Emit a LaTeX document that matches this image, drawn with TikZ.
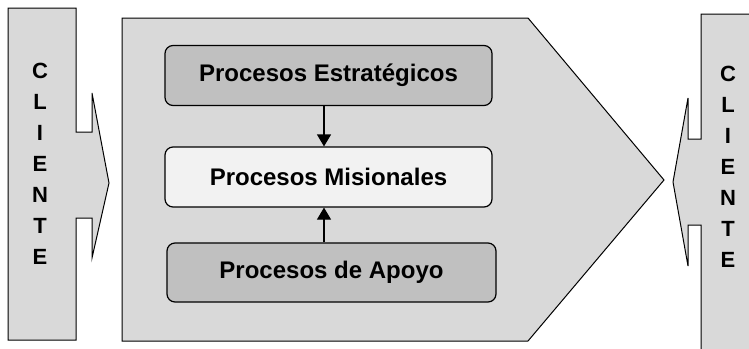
\documentclass[tikz,border=0pt]{standalone}
\usepackage{fontspec}
\setmainfont{Liberation Sans}
\usetikzlibrary{arrows.meta}
\definecolor{fondo}{HTML}{D9D9D9}
\definecolor{oscuro}{HTML}{C0C0C0}
\definecolor{claro}{HTML}{F2F2F2}
\begin{document}
\begin{tikzpicture}[x=1pt,y=-1pt,
  proceso/.style={draw,line width=1.2pt,rounded corners=8pt,
    minimum width=327pt,minimum height=60pt,
    font=\fontsize{24}{28}\selectfont\bfseries},
  flecha/.style={line width=1.2pt,-{Triangle[length=12pt,width=14pt]}},
  cliente/.style={align=center,font=\bfseries\fontsize{22}{31}\selectfont}]
\useasboundingbox (0,0) rectangle (749,348);
\clip (0,0) rectangle (749,348);
%
\draw[fill=fondo,line width=1pt] (8,8) -- (76,8) -- (76,132) -- (92,132) -- (92,93)
  -- (109,183) -- (92,258) -- (92,218) -- (76,218) -- (76,340) -- (8,340) -- cycle;
\node[cliente] (cliIzq) at (40,164) {C\\L\\I\\E\\N\\T\\E};
%
\draw[fill=fondo,line width=1pt] (122,18) -- (528,18) -- (664,180) -- (528,341)
  -- (122,341) -- cycle;
%
\draw[fill=fondo,line width=1pt] (701,14) -- (760,14) -- (760,360) -- (701,360)
  -- (701,225) -- (688,225) -- (688,266) -- (673,182) -- (688,98) -- (688,139)
  -- (701,139) -- cycle;
\node[cliente] (cliDer) at (728,167) {C\\L\\I\\E\\N\\T\\E};
%
\node[proceso,fill=oscuro] (estr) at (328.5,75.5) {Procesos Estratégicos};
\node[proceso,fill=claro] (mis) at (328.5,177) {Procesos Misionales};
\node[proceso,fill=oscuro,minimum width=329pt,minimum height=59pt] (apoyo) at (331.5,272.5) {Procesos de Apoyo};
%
\draw[flecha] ([xshift=-4.5pt]estr.south) -- ([xshift=-4.5pt]mis.north);
\draw[flecha] ([xshift=-7.5pt]apoyo.north) -- ([xshift=-4.5pt]mis.south);
\end{tikzpicture}
\end{document}
